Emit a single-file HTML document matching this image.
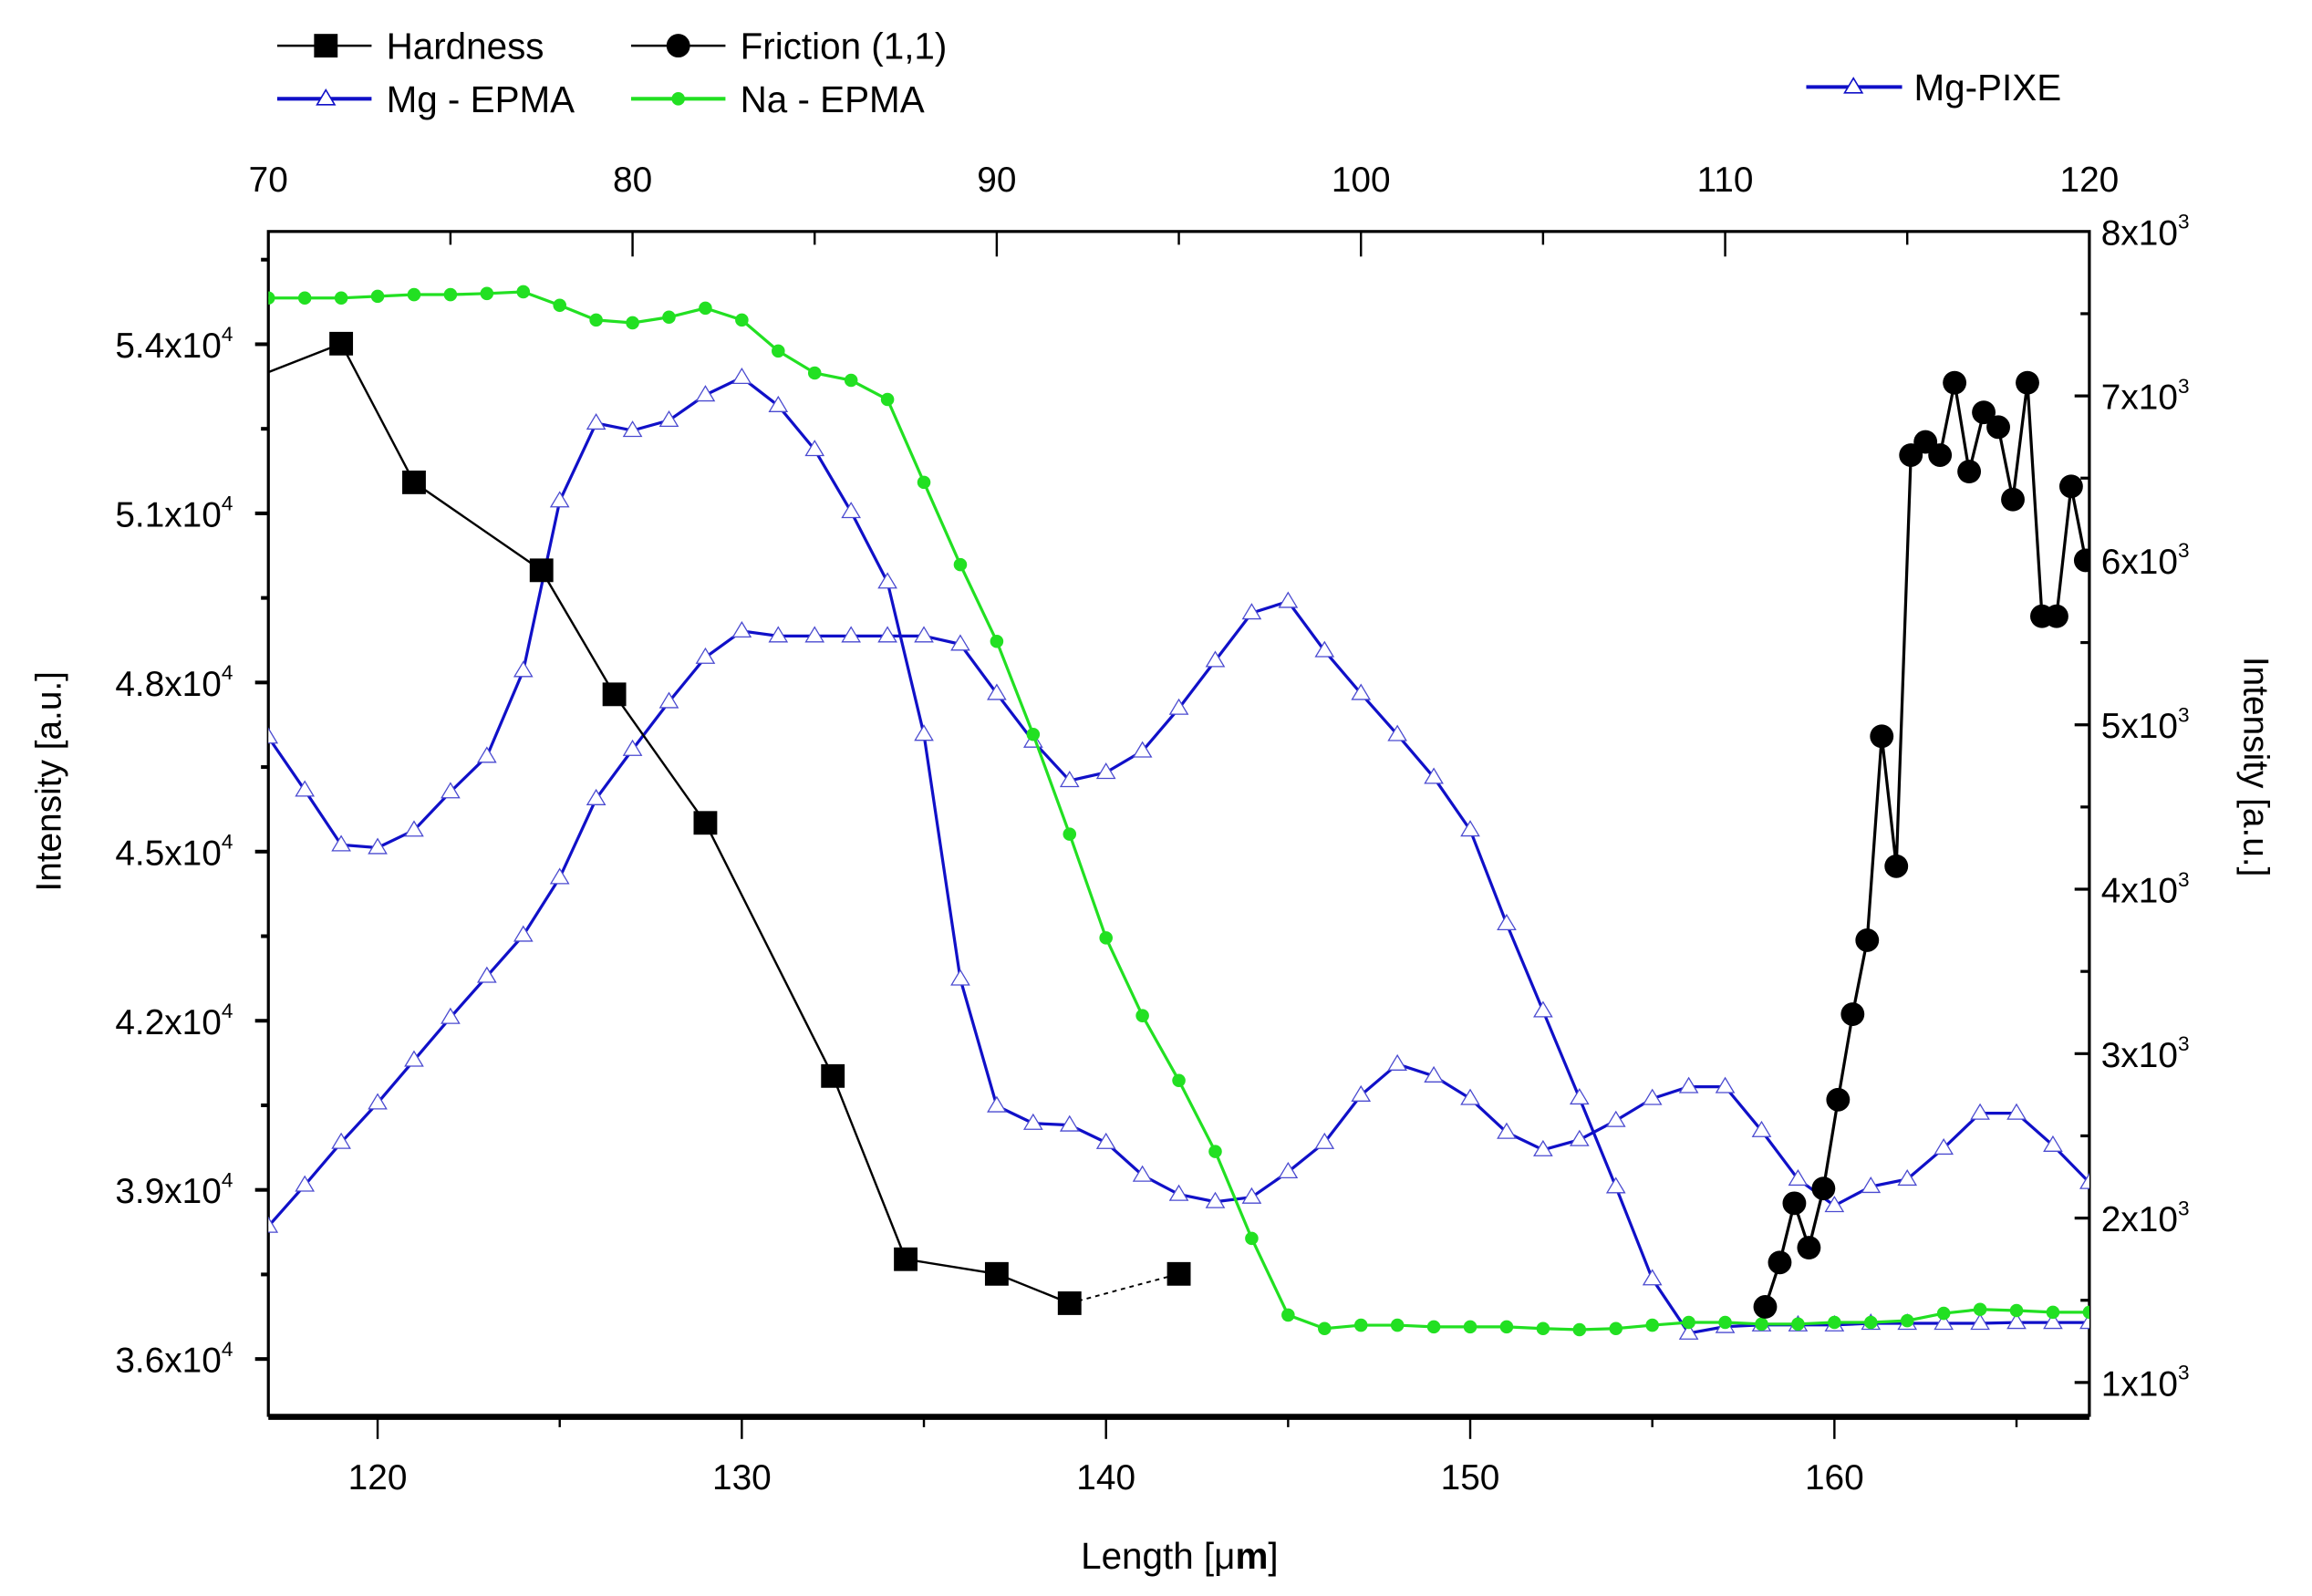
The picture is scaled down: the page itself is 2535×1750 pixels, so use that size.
<!DOCTYPE html>
<html><head><meta charset="utf-8"><style>
html,body{margin:0;padding:0;background:#fff;}
svg{display:block;font-family:"Liberation Sans",Arial,sans-serif;}
</style></head><body>
<svg id="chart" width="2535" height="1750" viewBox="0 0 1568 1082.5" preserveAspectRatio="none" xmlns="http://www.w3.org/2000/svg">
<g id="legend">
 <g>
  <line x1="188" y1="31" x2="252" y2="31" stroke="#000" stroke-width="1.5"/>
  <rect x="213" y="23" width="16" height="16" fill="#000"/>
  <text x="262" y="40" font-size="25">Hardness</text></g>
 <g>
  <line x1="428" y1="31" x2="492" y2="31" stroke="#000" stroke-width="1.5"/>
  <circle cx="460" cy="31" r="8" fill="#000"/>
  <text x="502" y="40" font-size="25">Friction (1,1)</text></g>
 <g>
  <line x1="188" y1="67" x2="252" y2="67" stroke="#1010c8" stroke-width="2.5"/>
  <polygon points="221,61 227,71 215,71" fill="#fff" stroke="#1010c8" stroke-width="1"/>
  <text x="262" y="76" font-size="25">Mg - EPMA</text></g>
 <g>
  <line x1="428" y1="67" x2="492" y2="67" stroke="#22e022" stroke-width="2.5"/>
  <circle cx="460" cy="67" r="4.5" fill="#22e022"/>
  <text x="502" y="76" font-size="25">Na - EPMA</text></g>
 <g>
  <line x1="1225" y1="59" x2="1290" y2="59" stroke="#1010c8" stroke-width="2.5"/>
  <polygon points="1257,53 1263,63 1251,63" fill="#fff" stroke="#1010c8" stroke-width="1"/>
  <text x="1298" y="68" font-size="25">Mg-PIXE</text></g>
</g>
<g id="axes"></g>
<g id="series"></g>
<text x="0" y="0" font-size="24" text-anchor="middle" transform="translate(41,530) rotate(-90)">Intensity [a.u.]</text>
<text x="0" y="0" font-size="24" text-anchor="middle" transform="translate(1522,520) rotate(90)">Intensity [a.u.]</text>
<text x="800" y="1064" font-size="25" text-anchor="middle">Length [μ<tspan font-weight="bold">m</tspan>]</text>
</svg>
<script>
const bottomTicks=[120,130,140,150,160];
const topTicks=[70,80,90,100,110,120];
const leftTicks=[36000,39000,42000,45000,48000,51000,54000];
const leftTickLabels=["3.6","3.9","4.2","4.5","4.8","5.1","5.4"];
const rightTicks=[1000,2000,3000,4000,5000,6000,7000,8000];
const rightTickLabels=["1","2","3","4","5","6","7","8"];

const hardX=[115,119,121,124.5,126.5,129,132.5,134.5,137,139,142];
const hardY=[53000,54010,51550,49990,47790,45510,41020,37770,37510,36990,37510];

const fricX=[158.1,158.5,158.9,159.3,159.7,160.1,160.5,160.9,161.3,161.7,162.1,162.5,162.9,163.3,163.7,164.1,164.5,164.9,165.3,165.7,166.1,166.5,166.9];
const fricY=[1460,1730,2090,1820,2180,2720,3240,3690,4930,4140,6640,6720,6640,7080,6540,6900,6810,6370,7080,5660,5660,6450,6000];

const mgX=[117,118,119,120,121,122,123,124,125,126,127,128,129,130,131,132,133,134,135,136,137,138,139,140,141,142,143,144,145,146,147,148,149,150,151,152,153,154,155,156,157,158,159,160,161,162,163,164,165,166,167];
const mgY=[47030,46090,45120,45070,45380,46060,46690,48210,51220,52600,52470,52650,53100,53410,52910,52130,51030,49780,47080,42740,40490,40180,40150,39840,39260,38920,38790,38870,39320,39840,40680,41230,41020,40620,40020,39710,39890,40230,40620,40830,40830,40050,39190,38720,39060,39190,39740,40360,40360,39790,39130];

const naX=mgX;
const naY=[54820,54820,54820,54850,54880,54880,54900,54930,54690,54430,54380,54480,54640,54430,53880,53490,53360,53020,51550,50090,48730,47080,45310,43470,42090,40940,39680,38140,36780,36540,36600,36600,36570,36570,36570,36540,36520,36540,36600,36650,36650,36620,36620,36650,36650,36680,36810,36880,36860,36830,36830];

const pixeX=[70,71,72,73,74,75,76,77,78,79,80,81,82,83,84,85,86,87,88,89,90,91,92,93,94,95,96,97,98,99,100,101,102,103,104,105,106,107,108,109,110,111,112,113,114,115,116,117,118,119,120];
const pixeY=[1950,2200,2460,2700,2960,3220,3470,3720,4070,4550,4850,5140,5410,5570,5540,5540,5540,5540,5540,5490,5190,4900,4660,4710,4840,5100,5390,5680,5750,5450,5190,4940,4680,4360,3790,3260,2730,2190,1630,1300,1340,1350,1350,1350,1360,1360,1360,1360,1365,1365,1365];

const L=182,R=1417,T=157,B=960;
const xB=v=>L+(v-117)*(R-L)/50;
const xT=v=>L+(v-70)*(R-L)/50;
const yL=v=>B-(v-35000)*(B-T)/21000;
const yR=v=>B-(v-800)*(B-T)/7200;
const NS="http://www.w3.org/2000/svg";
function mk(tag,attrs,parent){const e=document.createElementNS(NS,tag);for(const k in attrs)e.setAttribute(k,attrs[k]);parent.appendChild(e);return e;}
const ax=document.getElementById('axes'), sr=document.getElementById('series');

// frame
let f=mk('rect',{x:L,y:T,width:R-L,height:B-T,fill:'none',stroke:'#000','stroke-width':2},ax);


let bl=mk('line',{x1:L,y1:B+1,x2:R,y2:B+1,stroke:'#000','stroke-width':4},ax);



// bottom ticks
for(let v=120;v<=165;v+=5){const x=xB(v);const maj=bottomTicks.includes(v);
 let t=mk('line',{x1:x,y1:B,x2:x,y2:B+(maj?16:8),stroke:'#000','stroke-width':1.5},ax);
 
 }
bottomTicks.forEach(v=>{let t=mk('text',{x:xB(v),y:B+50,'font-size':24,'text-anchor':'middle'},ax);t.textContent=v;
 
 });
// top ticks
for(let v=70;v<=120;v+=5){const x=xT(v);const maj=topTicks.includes(v);
 let t=mk('line',{x1:x,y1:T,x2:x,y2:T+(maj?17:9),stroke:'#000','stroke-width':1.5},ax);
 
 }
topTicks.forEach(v=>{let t=mk('text',{x:xT(v),y:130,'font-size':24,'text-anchor':'middle'},ax);t.textContent=v;
 
 });
// left ticks
for(let v=36000;v<=55500;v+=1500){const y=yL(v);const maj=leftTicks.includes(v);
 let t=mk('line',{x1:L-(maj?9:5),y1:y,x2:L,y2:y,stroke:'#000','stroke-width':2.5},ax);
 
 }
leftTicks.forEach((v,i)=>{let t=mk('text',{x:158,y:yL(v)+9,'font-size':24,'text-anchor':'end'},ax);
 t.textContent=leftTickLabels[i]+'x10';
 let s=mk('tspan',{'font-size':14,dy:-11},t);s.textContent='4';
 
 });
// right ticks
for(let v=1000;v<=7500;v+=500){const y=yR(v);const maj=rightTicks.includes(v);
 let t=mk('line',{x1:R-(maj?10:6),y1:y,x2:R,y2:y,stroke:'#000','stroke-width':2},ax);
 
 }
rightTicks.forEach((v,i)=>{let t=mk('text',{x:1425,y:yR(v)+9,'font-size':24},ax);
 t.textContent=rightTickLabels[i]+'x10';
 let s=mk('tspan',{'font-size':14,dy:-11},t);s.textContent='3';
 
 });

// clip
const defs=mk('defs',{},sr);
const cp=mk('clipPath',{id:'clip'},defs);
mk('rect',{x:L,y:T,width:R-L,height:B-T},cp);
const g=mk('g',{'clip-path':'url(#clip)'},sr);

function pts(xs,ys,fx,fy){return xs.map((x,i)=>fx(x)+','+fy(ys[i])).join(' ');}

// Mg-PIXE (top x, right y)
let p=mk('polyline',{points:pts(pixeX,pixeY,xT,yR),fill:'none',stroke:'#1010c8','stroke-width':2},g);


pixeX.forEach((x,i)=>{const cx=xT(x),cy=yR(pixeY[i]);
 let m=mk('polygon',{points:`${cx},${cy-6} ${cx+6},${cy+4} ${cx-6},${cy+4}`,fill:'#fff',stroke:'#4a4ad0','stroke-width':0.8},g);
 
 });
// Mg-EPMA
p=mk('polyline',{points:pts(mgX,mgY,xB,yL),fill:'none',stroke:'#1010c8','stroke-width':2},g);


mgX.forEach((x,i)=>{const cx=xB(x),cy=yL(mgY[i]);
 let m=mk('polygon',{points:`${cx},${cy-6} ${cx+6},${cy+4} ${cx-6},${cy+4}`,fill:'#fff',stroke:'#4a4ad0','stroke-width':0.8},g);
 
 });
// Na-EPMA
p=mk('polyline',{points:pts(naX,naY,xB,yL),fill:'none',stroke:'#22e022','stroke-width':2},g);


naX.forEach((x,i)=>{let m=mk('circle',{cx:xB(x),cy:yL(naY[i]),r:4.5,fill:'#22e022'},g);
 
 });
// Hardness
const hn=hardX.length;
p=mk('polyline',{points:pts(hardX.slice(0,hn-1),hardY.slice(0,hn-1),xB,yL),fill:'none',stroke:'#000','stroke-width':1.5},g);


p=mk('polyline',{points:pts(hardX.slice(hn-2),hardY.slice(hn-2),xB,yL),fill:'none',stroke:'#000','stroke-width':1.2,'stroke-dasharray':'3,3'},g);


hardX.forEach((x,i)=>{let m=mk('rect',{x:xB(x)-8,y:yL(hardY[i])-8,width:16,height:16,fill:'#000'},g);
 
 });
// Friction (right y)
p=mk('polyline',{points:pts(fricX,fricY,xB,yR),fill:'none',stroke:'#000','stroke-width':2},g);


fricX.forEach((x,i)=>{let m=mk('circle',{cx:xB(x),cy:yR(fricY[i]),r:8,fill:'#000'},g);
 
 });
</script>
</body></html>
